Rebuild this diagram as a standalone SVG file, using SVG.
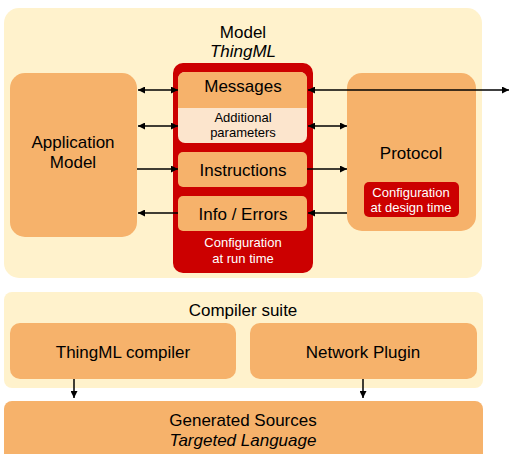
<svg xmlns="http://www.w3.org/2000/svg" width="509" height="454" viewBox="0 0 509 454">
<style>
text{font-family:"Liberation Sans",Arial,sans-serif;fill:#000;text-anchor:middle}
.t15{font-size:17px}
.t12{font-size:13px}
.w{fill:#fff}
.it{font-style:italic}
.bg{fill:#fff2cc}
.or{fill:#f6b26b}
.red{fill:#cc0000}
.lt{fill:#fce5cd}
.c line{stroke:#000;stroke-width:1.5}
</style>
<defs>
<marker id="ah" viewBox="0 0 10 10" refX="10" refY="5" markerWidth="9" markerHeight="7" markerUnits="userSpaceOnUse" orient="auto-start-reverse">
<path d="M0,0L10,5L0,10z" fill="#000"/>
</marker>
</defs>
<g id="model">
<rect class="bg" x="4" y="8" width="478" height="270" rx="15"/>
<text class="t15" x="243" y="38">Model</text>
<text class="t15 it" x="243" y="57">ThingML</text>
</g>
<g id="app">
<rect class="or" x="10" y="73" width="127" height="164" rx="15"/>
<text class="t15" x="73" y="148">Application</text>
<text class="t15" x="73" y="168">Model</text>
</g>
<g id="runtime">
<rect class="red" x="173" y="63" width="140" height="210" rx="10"/>
<text class="t12 w" x="243" y="247">Configuration</text>
<text class="t12 w" x="243" y="263">at run time</text>
</g>
<g id="messages">
<rect class="lt" x="178" y="72" width="129" height="71" rx="7"/>
<path class="or" d="M185,72H300A7,7 0 0 1 307,79V108H178V79A7,7 0 0 1 185,72z"/>
<text class="t15" x="243" y="92">Messages</text>
<text class="t12" x="243" y="122">Additional</text>
<text class="t12" x="243" y="137">parameters</text>
</g>
<g id="instructions">
<rect class="or" x="178" y="152" width="129" height="35" rx="5"/>
<text class="t15" x="243" y="176">Instructions</text>
</g>
<g id="info">
<rect class="or" x="178" y="196" width="129" height="35" rx="5"/>
<text class="t15" x="243" y="220">Info / Errors</text>
</g>
<g id="protocol">
<rect class="or" x="347" y="73" width="129" height="158" rx="15"/>
<text class="t15" x="411" y="159">Protocol</text>
<rect class="red" x="364" y="182" width="95" height="35" rx="5"/>
<text class="t12 w" x="411" y="197">Configuration</text>
<text class="t12 w" x="411" y="212">at design time</text>
</g>
<g id="compiler">
<rect class="bg" x="4" y="292" width="479" height="96" rx="8"/>
<text class="t15" x="243" y="316">Compiler suite</text>
</g>
<g id="thingmlc">
<rect class="or" x="10" y="323" width="226" height="56" rx="10"/>
<text class="t15" x="123" y="358">ThingML compiler</text>
</g>
<g id="plugin">
<rect class="or" x="250" y="323" width="227" height="56" rx="10"/>
<text class="t15" x="363" y="358">Network Plugin</text>
</g>
<g id="generated">
<rect class="or" x="4" y="401" width="479" height="70" rx="8"/>
<text class="t15" x="243" y="426">Generated Sources</text>
<text class="t15 it" x="243" y="446">Targeted Language</text>
</g>
<g class="c" id="connectors">
<line x1="138" y1="90" x2="178" y2="90" marker-start="url(#ah)" marker-end="url(#ah)"/>
<line x1="308" y1="90" x2="509" y2="90" marker-start="url(#ah)" marker-end="url(#ah)"/>
<line x1="138" y1="126" x2="178" y2="126" marker-start="url(#ah)" marker-end="url(#ah)"/>
<line x1="308" y1="126" x2="347" y2="126" marker-start="url(#ah)" marker-end="url(#ah)"/>
<line x1="137" y1="169" x2="178" y2="169" marker-end="url(#ah)"/>
<line x1="307" y1="169" x2="347" y2="169" marker-end="url(#ah)"/>
<line x1="178" y1="213" x2="138" y2="213" marker-end="url(#ah)"/>
<line x1="347" y1="213" x2="308" y2="213" marker-end="url(#ah)"/>
<line x1="74" y1="379" x2="74" y2="398" marker-end="url(#ah)"/>
<line x1="363" y1="379" x2="363" y2="398" marker-end="url(#ah)"/>
</g>
</svg>
